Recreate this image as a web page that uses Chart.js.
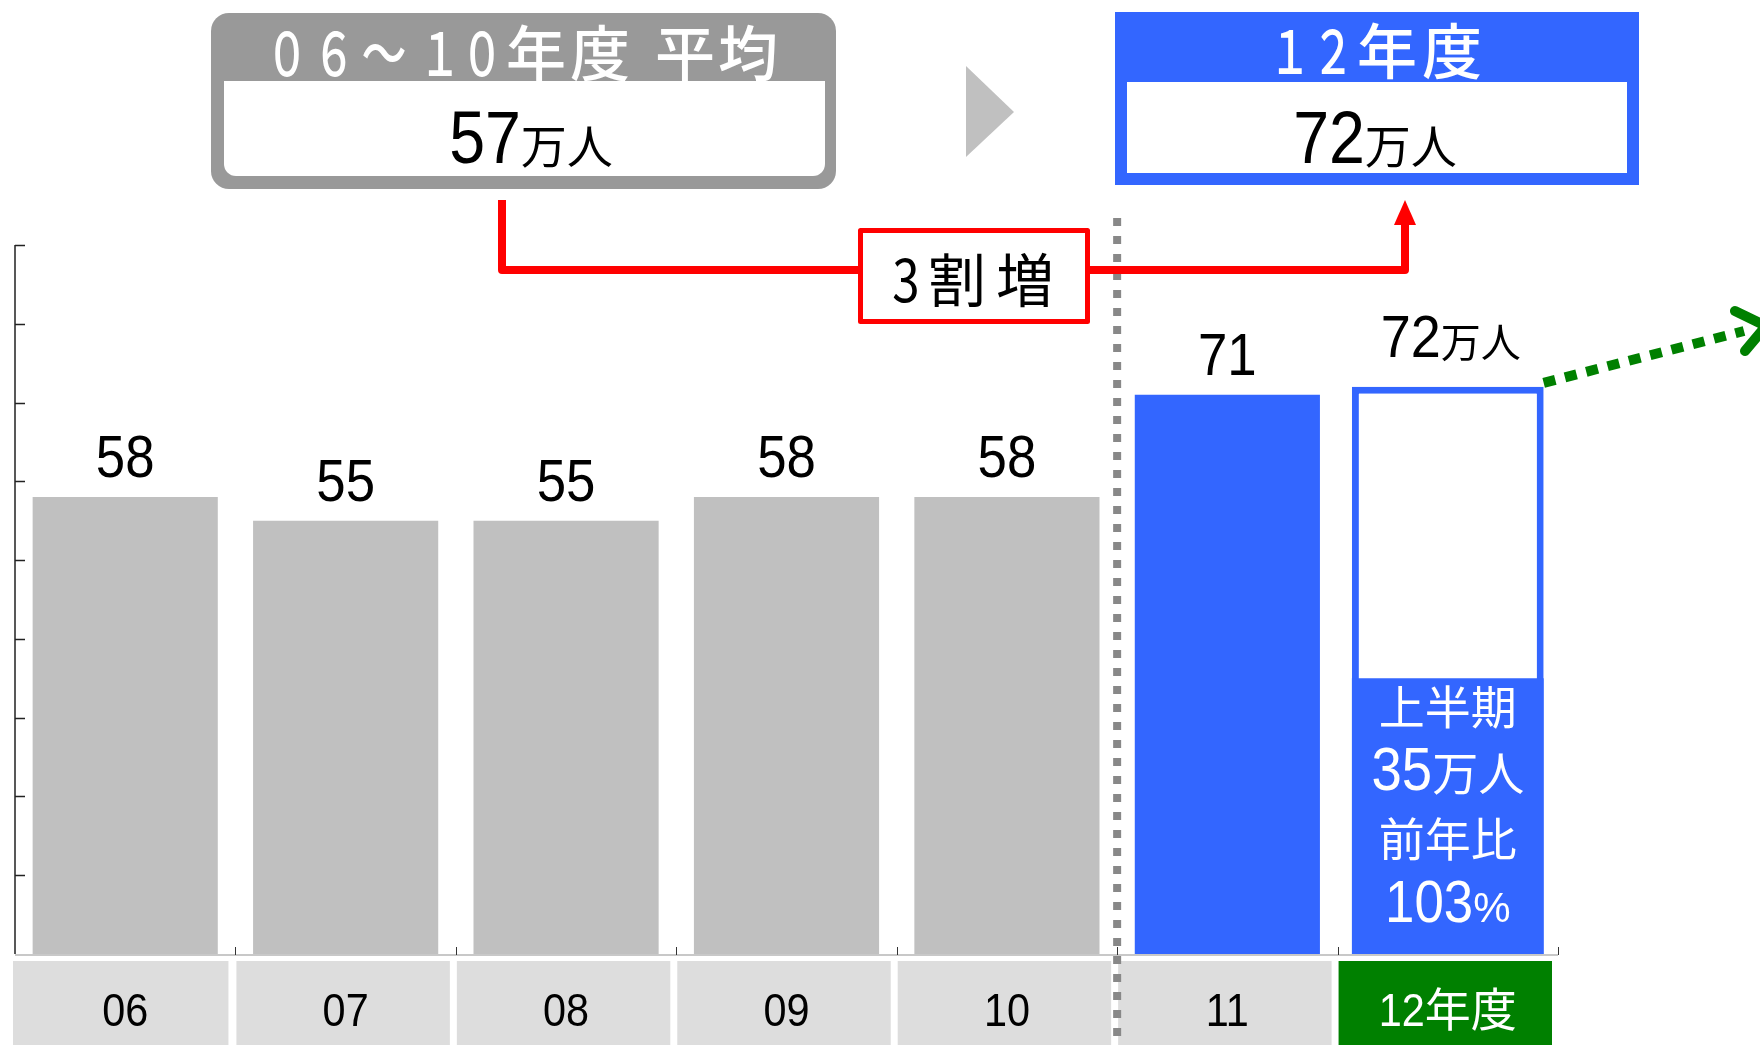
<!DOCTYPE html>
<html lang="ja">
<head>
<meta charset="utf-8">
<title>年度別 来場者数</title>
<script src="https://cdn.jsdelivr.net/npm/chart.js@4.4.1/dist/chart.umd.min.js"></script>
<style>
  html, body { margin: 0; padding: 0; background: #fff; }
  #wrap { width: 1760px; height: 1045px; }
</style>
</head>
<body>
<div id="wrap"><canvas id="visitorChart" width="1760" height="1045"></canvas></div>
<script>
// 年度別の人数（万人）
const years = ['06', '07', '08', '09', '10', '11', '12年度'];
const actuals = [58, 55, 55, 58, 58, 71, null];
const plan12 = [null, null, null, null, null, null, 72];
const firstHalf12 = [null, null, null, null, null, null, 35];
const avg0610 = 57;          // 06~10年度 平均
const yoyFirstHalf = 103;    // 上半期 前年比 (%)
const yMax = 90;
const yStep = 10;

const GRAY = '#c0c0c0';
const BLUE = '#3366ff';
const GREEN = '#008000';
const RED = '#ff0000';
const NUM = '"Liberation Sans", Arial, sans-serif';
const JP = '"Noto Sans CJK JP", "Noto Sans", sans-serif';

// draws several text runs on one baseline, centred as a group
function drawRuns(ctx, runs, cx, baseline, color) {
    ctx.save();
    ctx.fillStyle = color;
    ctx.textBaseline = 'alphabetic';
    ctx.textAlign = 'left';
    const widths = runs.map(r => {
        ctx.font = r.font;
        return ctx.measureText(r.text).width * (r.sx || 1);
    });
    let x = cx - widths.reduce((a, b) => a + b, 0) / 2;
    runs.forEach((r, i) => {
        ctx.save();
        ctx.font = r.font;
        ctx.translate(x, baseline);
        ctx.scale(r.sx || 1, 1);
        ctx.fillText(r.text, 0, 0);
        ctx.restore();
        x += widths[i];
    });
    ctx.restore();
}

// single characters at given centres, optionally squeezed horizontally
function drawChars(ctx, chars, baseline, font, color) {
    ctx.save();
    ctx.font = font;
    ctx.fillStyle = color;
    ctx.textAlign = 'center';
    ctx.textBaseline = 'alphabetic';
    chars.forEach(([ch, x, sx]) => {
        ctx.save();
        ctx.translate(x, baseline);
        ctx.scale(sx || 1, 1);
        ctx.fillText(ch, 0, 0);
        ctx.restore();
    });
    ctx.restore();
}

const decorations = {
    id: 'decorations',
    afterDatasetsDraw(chart) {
        const ctx = chart.ctx;
        const area = chart.chartArea;
        const xs = chart.scales.x;
        const ys = chart.scales.y;
        const catW = (area.right - area.left) / years.length;
        const base = ys.getPixelForValue(0);

        // y axis with inward ticks
        ctx.save();
        ctx.strokeStyle = '#222';
        ctx.lineWidth = 1.5;
        ctx.beginPath();
        ctx.moveTo(area.left, ys.getPixelForValue(yMax));
        ctx.lineTo(area.left, base);
        for (let v = yStep; v <= yMax; v += yStep) {
            const y = Math.round(ys.getPixelForValue(v)) + 0.5;
            ctx.moveTo(area.left, y);
            ctx.lineTo(area.left + 10, y);
        }
        ctx.stroke();

        // baseline and category ticks
        ctx.strokeStyle = '#c8c8c8';
        ctx.lineWidth = 2;
        ctx.beginPath();
        ctx.moveTo(area.left, base + 1);
        ctx.lineTo(area.right, base + 1);
        ctx.stroke();
        ctx.strokeStyle = '#333';
        ctx.lineWidth = 1;
        ctx.beginPath();
        for (let i = 1; i <= years.length; i++) {
            const x = Math.round(area.left + i * catW) + 0.5;
            ctx.moveTo(x, base - 7);
            ctx.lineTo(x, base + 1);
        }
        ctx.stroke();
        ctx.restore();

        // category cells
        years.forEach((label, i) => {
            const left = area.left + i * catW;
            const last = i === years.length - 1;
            ctx.fillStyle = last ? GREEN : '#dddddd';
            ctx.fillRect(i === 0 ? left - 2 : left + 1, base + 7, catW - (i === 0 ? 5 : 7), 1045 - base - 7);
            const cx = xs.getPixelForValue(i);
            const m = label.match(/^(\d+)(.*)$/);
            const runs = [{ text: m[1], font: '46px ' + NUM, sx: 0.9 }];
            if (m[2]) runs.push({ text: m[2], font: '400 46px ' + JP });
            drawRuns(ctx, runs, cx, 1026, last ? '#fff' : '#000');
        });

        // dashed separator between 10 and 11
        const sepX = (xs.getPixelForValue(4) + xs.getPixelForValue(5)) / 2;
        ctx.save();
        ctx.strokeStyle = '#888';
        ctx.lineWidth = 8;
        ctx.setLineDash([8, 10]);
        ctx.beginPath();
        ctx.moveTo(sepX, 218);
        ctx.lineTo(sepX, 1045);
        ctx.stroke();
        ctx.restore();

        // value labels above bars
        const actualMeta = chart.getDatasetMeta(2);
        actualMeta.data.forEach((bar, i) => {
            if (actuals[i] == null) return;
            drawRuns(ctx, [{ text: String(actuals[i]), font: '60px ' + NUM, sx: 0.88 }], bar.x, bar.y - 20, '#000');
        });
        const planBar = chart.getDatasetMeta(1).data[6];
        drawRuns(ctx, [
            { text: String(plan12[6]), font: '60px ' + NUM, sx: 0.9 },
            { text: '万人', font: '400 40px ' + JP }
        ], planBar.x + 3, planBar.y - 30, '#000');

        // text inside the 12年度 bar
        const halfBar = chart.getDatasetMeta(0).data[6];
        const top = halfBar.y;
        const gap = (base - 32 - (top + 46)) / 3;
        const lines = [top + 46, top + 46 + gap, top + 46 + 2 * gap, base - 32];
        drawRuns(ctx, [{ text: '上半期', font: '400 46px ' + JP }], halfBar.x, lines[0], '#fff');
        drawRuns(ctx, [
            { text: String(firstHalf12[6]), font: '62px ' + NUM, sx: 0.88 },
            { text: '万人', font: '400 46px ' + JP }
        ], halfBar.x, lines[1], '#fff');
        drawRuns(ctx, [{ text: '前年比', font: '400 46px ' + JP }], halfBar.x, lines[2], '#fff');
        drawRuns(ctx, [
            { text: String(yoyFirstHalf), font: '60px ' + NUM, sx: 0.88 },
            { text: '%', font: '42px ' + NUM }
        ], halfBar.x, lines[3], '#fff');

        // dotted green arrow off the 12年度 bar
        const sx = planBar.x + planBar.width / 2;
        const sy = planBar.y - 4;
        ctx.save();
        ctx.strokeStyle = GREEN;
        ctx.lineWidth = 10;
        ctx.setLineDash([12, 10]);
        ctx.beginPath();
        ctx.moveTo(sx, sy);
        ctx.lineTo(1744, 331);
        ctx.stroke();
        ctx.setLineDash([]);
        ctx.lineCap = 'round';
        ctx.lineJoin = 'round';
        ctx.beginPath();
        ctx.moveTo(1735, 311);
        ctx.lineTo(1766, 326);
        ctx.lineTo(1745, 351);
        ctx.stroke();
        ctx.restore();

        // 06~10年度 平均 box
        ctx.save();
        ctx.fillStyle = '#999999';
        ctx.beginPath();
        ctx.roundRect(211, 13, 625, 176, 18);
        ctx.fill();
        ctx.fillStyle = '#fff';
        ctx.beginPath();
        ctx.roundRect(224, 81, 601, 95, [0, 0, 12, 12]);
        ctx.fill();
        ctx.restore();
        drawChars(ctx, [['０', 287, 0.7], ['６', 334, 0.7], ['～', 384, 0.75], ['１', 440, 0.7], ['０', 482, 0.7],
            ['年', 536], ['度', 600], ['平', 685], ['均', 748]], 76, '500 60px ' + JP, '#fff');
        drawRuns(ctx, [
            { text: String(avg0610), font: '75px ' + NUM, sx: 0.86 },
            { text: '万人', font: '400 46px ' + JP }
        ], 531, 163, '#000');

        // grey pointer triangle
        ctx.fillStyle = GRAY;
        ctx.beginPath();
        ctx.moveTo(966, 66);
        ctx.lineTo(1014, 112);
        ctx.lineTo(966, 157);
        ctx.closePath();
        ctx.fill();

        // 12年度 box
        ctx.fillStyle = BLUE;
        ctx.fillRect(1115, 12, 524, 173);
        ctx.fillStyle = '#fff';
        ctx.fillRect(1127, 82, 500, 91);
        drawChars(ctx, [['１', 1290, 0.7], ['２', 1333, 0.7], ['年', 1387], ['度', 1452]], 74, '500 60px ' + JP, '#fff');
        drawRuns(ctx, [
            { text: String(plan12[6]), font: '75px ' + NUM, sx: 0.86 },
            { text: '万人', font: '400 46px ' + JP }
        ], 1375, 163, '#000');

        // red connector with 3割増
        ctx.save();
        ctx.strokeStyle = RED;
        ctx.lineWidth = 8;
        ctx.lineJoin = 'round';
        ctx.beginPath();
        ctx.moveTo(502, 200);
        ctx.lineTo(502, 270);
        ctx.lineTo(1405, 270);
        ctx.lineTo(1405, 222);
        ctx.stroke();
        ctx.fillStyle = RED;
        ctx.beginPath();
        ctx.moveTo(1405, 200);
        ctx.lineTo(1416, 225);
        ctx.lineTo(1394, 225);
        ctx.closePath();
        ctx.fill();
        ctx.fillStyle = '#fff';
        ctx.fillRect(858, 228, 232, 96);
        ctx.lineWidth = 5;
        ctx.strokeRect(860.5, 230.5, 227, 91);
        ctx.restore();
        drawChars(ctx, [['3', 906, 0.85], ['割', 957], ['増', 1025]], 302, '400 58px ' + JP, '#000');
    }
};

new Chart(document.getElementById('visitorChart'), {
    type: 'bar',
    data: {
        labels: years,
        datasets: [
            {
                label: '上半期',
                data: firstHalf12,
                backgroundColor: BLUE,
                grouped: false,
                barPercentage: 0.87,
                categoryPercentage: 1,
                order: 0
            },
            {
                label: '12年度',
                data: plan12,
                backgroundColor: '#ffffff',
                borderColor: BLUE,
                borderWidth: 7,
                grouped: false,
                barPercentage: 0.87,
                categoryPercentage: 1,
                order: 1
            },
            {
                label: '実績',
                data: actuals,
                backgroundColor: [GRAY, GRAY, GRAY, GRAY, GRAY, BLUE, GRAY],
                grouped: false,
                barPercentage: 0.84,
                categoryPercentage: 1,
                order: 2
            }
        ]
    },
    options: {
        responsive: false,
        animation: false,
        events: [],
        layout: { padding: { left: 15, right: 202, top: 245, bottom: 91 } },
        scales: {
            x: { display: false },
            y: { display: false, min: 0, max: yMax }
        },
        plugins: {
            legend: { display: false },
            tooltip: { enabled: false }
        }
    },
    plugins: [decorations]
});
</script>
</body>
</html>
